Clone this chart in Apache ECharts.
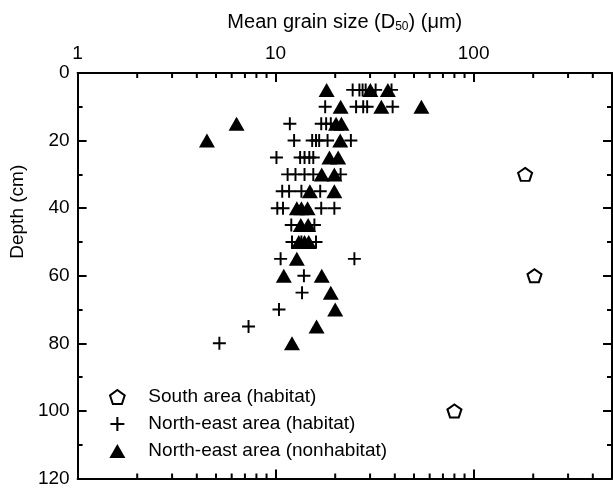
<!DOCTYPE html>
<html>
<head>
<meta charset="utf-8">
<script src="https://cdn.jsdelivr.net/npm/echarts@6/dist/echarts.min.js"></script>
<style>
  html, body { margin: 0; padding: 0; background: #fff; }
  #container { width: 613px; height: 488px; }
</style>
</head>
<body>
<div id="container"></div>
<script>
// [grain size (um), depth (cm)]
var southHabitat = [[182, 30], [203, 60], [80, 100]];

var northEastHabitat = [
    [24.5, 5], [26.5, 5], [27.5, 5], [28.5, 5], [32, 5], [38.5, 5],
    [17.8, 10], [25.5, 10], [27.7, 10], [29, 10], [39, 10],
    [11.8, 15], [17, 15], [18, 15], [19, 15],
    [12.4, 20], [15.3, 20], [16, 20], [16.6, 20], [18.3, 20], [24, 20],
    [10.1, 25], [13.3, 25], [14, 25], [14.8, 25], [15.5, 25],
    [11.5, 30], [12.6, 30], [14, 30], [15.5, 30], [21.3, 30],
    [10.8, 35], [11.7, 35], [13.5, 35], [16.8, 35],
    [10.2, 40], [10.9, 40], [17, 40], [19.8, 40],
    [12, 45], [15.7, 45],
    [12.1, 50], [13.5, 50], [16, 50],
    [10.6, 55], [25, 55],
    [13.9, 60],
    [13.6, 65],
    [10.4, 70],
    [7.3, 75],
    [5.2, 80]
];

var northEastNonhabitat = [
    [18.1, 5], [30.1, 5], [36.9, 5],
    [21.3, 10], [34.2, 10], [54.5, 10],
    [6.35, 15], [20.2, 15], [21.5, 15],
    [4.5, 20], [21.2, 20],
    [18.7, 25], [20.7, 25],
    [17.1, 30], [19.8, 30],
    [14.9, 35], [19.8, 35],
    [12.8, 40], [13.5, 40], [14.5, 40],
    [13.4, 45], [14.6, 45],
    [13.1, 50], [14, 50], [14.7, 50],
    [12.8, 55],
    [11, 60], [17.1, 60],
    [19, 65],
    [20, 70],
    [16.1, 75],
    [12.1, 80]
];

var minorTickValues = [2, 3, 4, 5, 6, 7, 8, 9, 20, 30, 40, 50, 60, 70, 80, 90, 200, 300, 400];

var seriesNames = ['South area (habitat)', 'North-east area (habitat)', 'North-east area (nonhabitat)'];

var fontFamily = 'Liberation Sans, Arial, sans-serif';
var plusPath = 'path://M4.25,0H5.75V4.25H10V5.75H5.75V10H4.25V5.75H0V4.25H4.25Z';
var pentagonPath = 'path://M50,0L97.6,34.5L79.4,90.5L20.6,90.5L2.4,34.5Z';

var chart = echarts.init(document.getElementById('container'));

var axisLine = { show: true, onZero: false, lineStyle: { color: '#000', width: 2 } };

chart.setOption({
    animation: false,
    textStyle: { fontFamily: fontFamily, color: '#000' },
    grid: { left: 72, right: 1, top: 73, bottom: 8 },
    legend: {
        data: seriesNames,
        orient: 'vertical',
        left: 104,
        top: 382,
        itemWidth: 16,
        itemHeight: 14,
        itemGap: 7,
        textStyle: { fontSize: 19, color: '#000', fontFamily: fontFamily, lineHeight: 20, padding: [0, 0, 0, 18] }
    },
    xAxis: [{
        type: 'log',
        logBase: 10,
        position: 'top',
        min: 1,
        max: 500,
        interval: 1,
        axisLine: axisLine,
        axisTick: { inside: true, length: 9, lineStyle: { color: '#000', width: 2 } },
        axisLabel: { fontSize: 19, color: '#000', margin: 10, showMaxLabel: false },
        splitLine: { show: false },
        name: '{t|Mean grain size (D}{s|50}{t|) (\u03bcm)}',
        nameLocation: 'middle',
        nameGap: 40,
        nameTextStyle: {
            rich: {
                t: { fontSize: 20, color: '#000', fontFamily: fontFamily },
                s: { fontSize: 12, color: '#000', fontFamily: fontFamily, padding: [10, 0, 0, 0] }
            }
        }
    }, {
        type: 'log',
        logBase: 10,
        position: 'bottom',
        min: 1,
        max: 500,
        interval: 1,
        axisLine: axisLine,
        axisTick: { inside: true, length: 9, lineStyle: { color: '#000', width: 2 } },
        axisLabel: { show: false },
        splitLine: { show: false }
    }],
    yAxis: [{
        type: 'value',
        position: 'left',
        inverse: true,
        min: 0,
        max: 120,
        interval: 20,
        axisLine: axisLine,
        axisTick: { inside: true, length: 9, lineStyle: { color: '#000', width: 2 } },
        minorTick: { show: true, splitNumber: 2, length: 5, lineStyle: { color: '#000', width: 2 } },
        axisLabel: { fontSize: 19, color: '#000', margin: 8 },
        splitLine: { show: false },
        name: 'Depth (cm)',
        nameLocation: 'middle',
        nameGap: 42,
        nameTextStyle: { fontSize: 19, color: '#000', padding: [0, 0, 0, 128] }
    }, {
        type: 'value',
        position: 'right',
        inverse: true,
        min: 0,
        max: 120,
        interval: 20,
        axisLine: axisLine,
        axisTick: { inside: true, length: 9, lineStyle: { color: '#000', width: 2 } },
        minorTick: { show: true, splitNumber: 2, length: 5, lineStyle: { color: '#000', width: 2 } },
        axisLabel: { show: false },
        splitLine: { show: false }
    }],
    series: [{
        name: 'minor ticks',
        type: 'custom',
        silent: true,
        xAxisIndex: 0,
        yAxisIndex: 0,
        data: minorTickValues.map(function (v) { return [v, 0]; }),
        renderItem: function (params, api) {
            var top = api.coord([api.value(0), 0]);
            var bottom = api.coord([api.value(0), 120]);
            var style = { stroke: '#000', lineWidth: 2 };
            return {
                type: 'group',
                children: [
                    { type: 'line', shape: { x1: top[0], y1: top[1], x2: top[0], y2: top[1] + 5 }, style: style },
                    { type: 'line', shape: { x1: bottom[0], y1: bottom[1], x2: bottom[0], y2: bottom[1] - 5 }, style: style }
                ]
            };
        }
    }, {
        name: seriesNames[0],
        type: 'scatter',
        data: southHabitat,
        symbol: pentagonPath,
        symbolSize: [14, 13],
        itemStyle: { color: '#fff', borderColor: '#000', borderWidth: 2, opacity: 1 }
    }, {
        name: seriesNames[1],
        type: 'scatter',
        data: northEastHabitat,
        symbol: plusPath,
        symbolSize: 13,
        itemStyle: { color: '#000', opacity: 1 }
    }, {
        name: seriesNames[2],
        type: 'scatter',
        data: northEastNonhabitat,
        symbol: 'triangle',
        symbolSize: [16, 14],
        itemStyle: { color: '#000', opacity: 1 }
    }]
});
</script>
</body>
</html>
